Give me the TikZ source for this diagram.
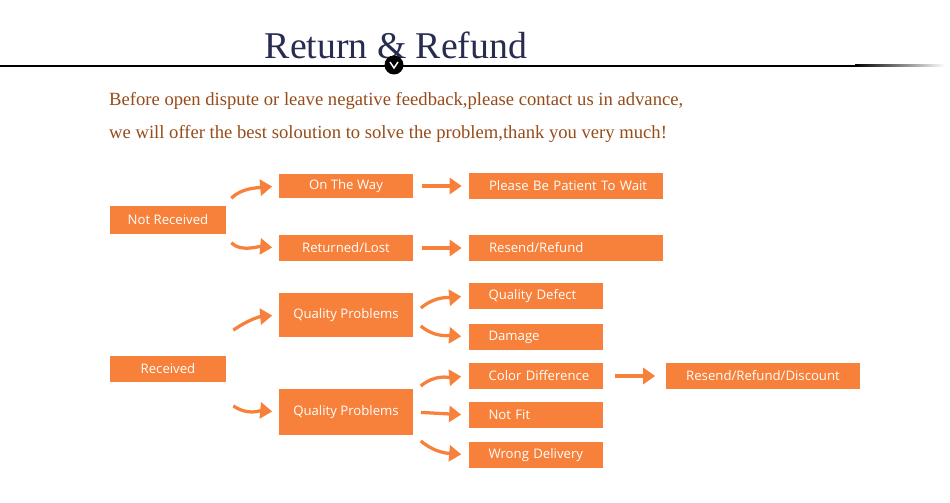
\documentclass[tikz,border=0pt]{standalone}
\usepackage{fontspec}
\setmainfont{Liberation Serif}
\newfontfamily\boxfont{Open Sans}
\usepackage{xcolor}
\definecolor{rforange}{RGB}{247,128,58}
\definecolor{rfnavy}{RGB}{40,45,80}
\definecolor{rfbrown}{RGB}{150,75,25}
\usetikzlibrary{arrows.meta,positioning,calc}

\begin{document}
\begin{tikzpicture}[x=0.02cm, y=-0.02cm,
    box/.style={rectangle, fill=rforange, text=white, minimum width=2.7cm, minimum height=0.54cm,
      inner sep=0pt, align=center, font=\boxfont\fontsize{7.5pt}{9pt}\selectfont},
    lbox/.style={box, inner xsep=0.2cm, text width=2.3cm, align=left,
      execute at begin node=\hspace*{0.2cm}},
    arr/.style={-{Triangle[length=0.24cm, width=0.32cm]}, line width=0.065cm, rforange}
  ]
  \useasboundingbox (0,0) rectangle (950,503);

  % heading
  \node[font=\fontsize{21.5pt}{24pt}\selectfont, text=rfnavy] (title) at (396,45) {Return \& Refund};
  \draw[line width=0.04cm] (0,66) -- (855,66);
  \shade[left color=black, right color=white] (855,65) rectangle (945,67);
  \node[circle, fill=black, minimum size=0.38cm, inner sep=0pt] (chev) at (394,65) {};
  \draw[white, line width=0.03cm] (390,62) -- (394,68) -- (398,62);

  \node[anchor=west, text=rfbrown, font=\fontsize{10.6pt}{12pt}\selectfont] (note1) at (103,101)
    {Before open dispute or leave negative feedback,please contact us in advance,};
  \node[anchor=west, text=rfbrown, font=\fontsize{10.6pt}{12pt}\selectfont] (note2) at (103,134)
    {we will offer the best soloution to solve the problem,thank you very much!};

  % not received
  \node[box, minimum width=2.32cm, minimum height=0.58cm] (nrec) at (168,220) {Not Received};
  \node[box, minimum height=0.5cm] (way)  at (346,186) {On The Way};
  \node[box] (lost) at (346,248) {Returned/Lost};
  \node[lbox, text width=3.48cm, minimum height=0.52cm] (wait) at (566,186) {Please Be Patient To Wait};
  \node[lbox, text width=3.48cm] (resend) at (566,248) {Resend/Refund};

  \draw[arr, shorten <=0.14cm, shorten >=0.12cm] ($(nrec.north east)+(0,-2)$) to[out=45, in=185] (way.west);
  \draw[arr, shorten <=0.14cm, shorten >=0.12cm] ($(nrec.south east)+(0,3)$) to[out=-45, in=175] (lost.west);
  \draw[arr, shorten <=0.16cm, shorten >=0.14cm] (way.east) -- (wait.west);
  \draw[arr, shorten <=0.16cm, shorten >=0.14cm] (lost.east) -- (resend.west);

  % received
  \node[box, minimum width=2.32cm] (rec) at (168,369) {Received};
  \node[box, minimum height=0.9cm] (qual1) at (346,315) {Quality Problems};
  \node[box, minimum height=0.94cm] (qual2) at (346,412) {Quality Problems};
  \node[lbox] (defect) at (536,296) {Quality Defect};
  \node[lbox] (damage) at (536,337) {Damage};
  \node[lbox] (color)  at (536,376) {Color Difference};
  \node[lbox] (notfit) at (536,415) {Not Fit};
  \node[lbox] (wrong)  at (536,455) {Wrong Delivery};
  \node[box, minimum width=3.9cm] (disc) at (763,376) {Resend/Refund/Discount};

  \draw[arr, shorten >=0.12cm] ($(rec.north east)+(7,-25)$) to[out=35, in=185] (qual1.west);
  \draw[arr, shorten >=0.12cm] ($(rec.south east)+(7,23)$) to[out=-35, in=175] (qual2.west);
  \draw[arr, shorten >=0.14cm] ($(qual1.east)+(7,-7)$) to[out=40, in=185] (defect.west);
  \draw[arr, shorten >=0.14cm] ($(qual1.east)+(7,11)$) to[out=-40, in=175] (damage.west);
  \draw[arr, shorten >=0.14cm] ($(qual2.east)+(7,-26)$) to[out=40, in=185] (color.west);
  \draw[arr, shorten <=0.14cm, shorten >=0.14cm] (qual2.east) -- (notfit.west);
  \draw[arr, shorten >=0.14cm] ($(qual2.east)+(7,29)$) to[out=-40, in=175] (wrong.west);
  \draw[arr, shorten <=0.22cm, shorten >=0.2cm] (color.east) -- (disc.west);
\end{tikzpicture}
\end{document}
